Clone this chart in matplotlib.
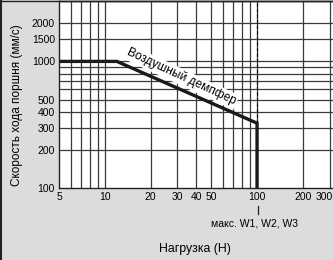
import matplotlib
matplotlib.use("Agg")
import matplotlib.pyplot as plt
from matplotlib.lines import Line2D
from matplotlib.transforms import ScaledTranslation

plt.rcParams['font.family'] = ['Liberation Sans', 'DejaVu Sans']

# Data
curve_load = [5, 12, 100, 100]          # Нагрузка (Н)
curve_speed = [1000, 1000, 325, 100]    # Скорость (мм/с)
max_load = 100
x_grid = [6, 7, 8, 9, 10, 20, 30, 40, 50, 60, 70, 80, 90, 100, 200, 300]
x_labels = {5: '5', 10: '10', 20: '20', 30: '30', 40: '40', 50: '50',
            100: '100', 200: '200', 300: '300'}
y_grid = [200, 300, 400, 500, 600, 700, 800, 900, 1000, 1500, 2000, 3000]
y_labels = {100: '100', 200: '200', 300: '300', 400: '400', 500: '500',
            1000: '1000', 1500: '1500', 2000: '2000'}

W, H = 333, 260
fig = plt.figure(figsize=(W / 100, H / 100), dpi=100)
fig.patch.set_facecolor('#dcdcdc')

ax = fig.add_axes([59 / W, (H - 188) / H, (W - 59) / W, 187 / H])
ax.set_facecolor('white')
ax.set_xscale('log')
ax.set_yscale('log')
ax.set_xlim(5, 315.5)
ax.set_ylim(100, 3000)

grid_col = '#3a3a3a'
for xv in x_grid:
    ax.axvline(xv, color=grid_col, lw=0.9, zorder=1)
for yv in y_grid:
    ax.axhline(yv, color=grid_col, lw=0.9, zorder=1)

# dashed line at max load
ax.plot([max_load, max_load], [curve_speed[2], 3000], color='black', lw=0.8,
        ls=(0, (3, 2)), zorder=3)

ax.plot(curve_load, curve_speed, color='#1a1a1a', lw=2.4, zorder=4,
        solid_joinstyle='miter')

ax.text(31.7, 755, 'Воздушный демпфер', rotation=-25, rotation_mode='anchor',
        ha='center', va='center', fontsize=8.6, zorder=3.5,
        bbox=dict(facecolor='white', edgecolor='none', pad=1.2))

ax.xaxis.set_major_locator(matplotlib.ticker.FixedLocator(list(x_labels.keys())))
ax.xaxis.set_major_formatter(matplotlib.ticker.FixedFormatter(list(x_labels.values())))
ax.xaxis.set_minor_locator(matplotlib.ticker.NullLocator())
ax.yaxis.set_major_locator(matplotlib.ticker.FixedLocator(list(y_labels.keys())))
ax.yaxis.set_major_formatter(matplotlib.ticker.FixedFormatter(list(y_labels.values())))
ax.yaxis.set_minor_locator(matplotlib.ticker.NullLocator())
ax.tick_params(length=0, labelsize=7.5, pad=3)

# nudge the last x label so it stays inside the picture
for lab in ax.get_xticklabels():
    if lab.get_text() == '300':
        lab.set_transform(lab.get_transform() + ScaledTranslation(-5 / 100, 0, fig.dpi_scale_trans))

ax.spines['right'].set_visible(False)
for s in ['left', 'bottom', 'top']:
    ax.spines[s].set_color('#222222')
    ax.spines[s].set_linewidth(1.0)

# annotation below 100
fig.add_artist(Line2D([258 / W, 258 / W], [1 - 206 / H, 1 - 214 / H],
                      color='#222222', lw=0.9))
fig.text(255 / W, 1 - 224 / H, 'макс. W1, W2, W3', ha='center', va='center',
         fontsize=7.5)

fig.text(195 / W, 1 - 249 / H, 'Нагрузка (Н)', ha='center', va='center',
         fontsize=8.8)
fig.text(17 / W, 1 - 105 / H, 'Скорость хода поршня (мм/с)', ha='center',
         va='center', rotation=90, fontsize=8.5)

# figure border on left and top
fig.add_artist(Line2D([1 / W, 1 / W], [0, 1], color='#222222', lw=1.5))
fig.add_artist(Line2D([0, 1], [1 - 0.5 / H, 1 - 0.5 / H], color='#222222', lw=1.0))

fig.savefig('out.png', dpi=100, facecolor=fig.get_facecolor())
